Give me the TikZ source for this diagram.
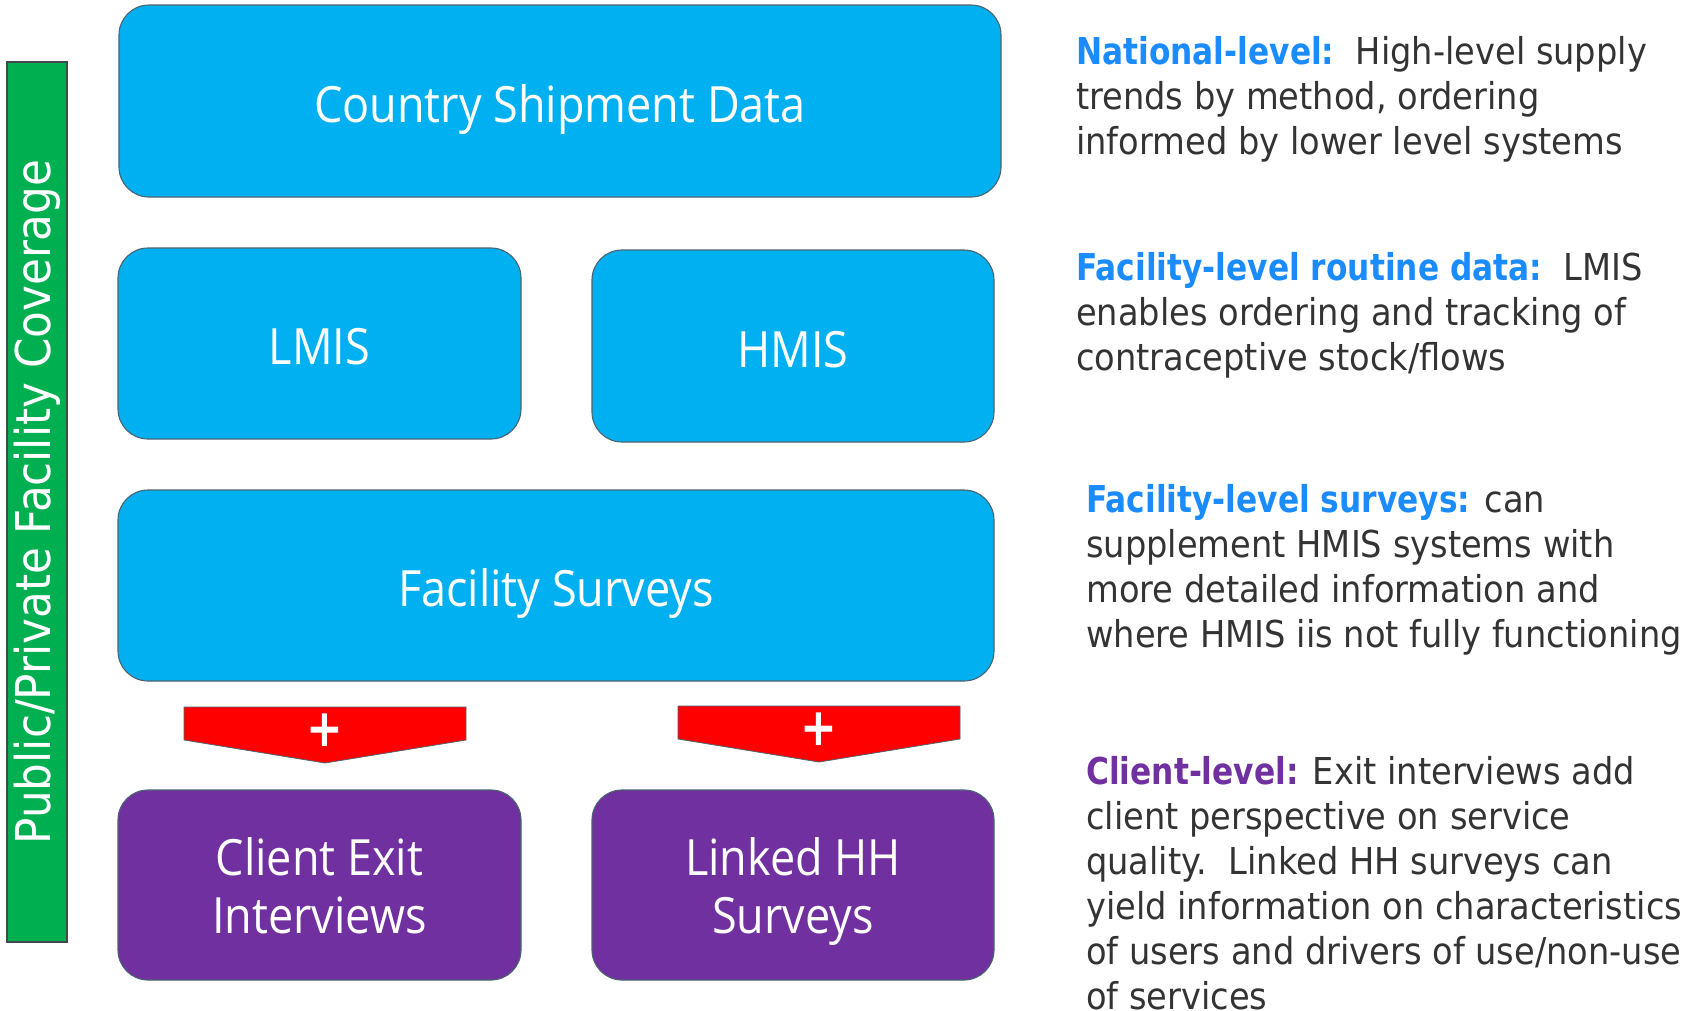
\documentclass[tikz,border=0pt]{standalone}
\usepackage{fontspec}
\setmainfont{DejaVu Sans}[FakeStretch=0.91]
\newfontfamily\labfont{DejaVu Sans}[FakeStretch=0.845]
\newfontfamily\barfont{DejaVu Sans}[FakeStretch=0.91]
\newfontfamily\boxfont{Open Sans}[FakeStretch=0.9]
\definecolor{boxblue}{HTML}{00B0F0}
\definecolor{boxpurple}{HTML}{7030A0}
\definecolor{bargreen}{HTML}{00B050}
\definecolor{arrowred}{HTML}{FF0000}
\definecolor{boxline}{HTML}{4A6470}
\definecolor{barline}{HTML}{3F4A4F}
\definecolor{labblue}{HTML}{1A8CFF}
\definecolor{labpurple}{HTML}{7030A0}
\definecolor{textdark}{HTML}{333333}
\newcommand{\labb}[2]{\textcolor{#1}{\labfont\bfseries #2}}
\begin{document}
\begin{tikzpicture}[x=1pt,y=-1pt,
  infobox/.style={draw=boxline, line width=1.1pt, rounded corners=30pt, inner sep=0pt,
    text=white, align=center, text depth=0pt, font=\boxfont\fontsize{50}{58}\selectfont},
  oneline/.style={text height=42pt},
  bluebox/.style={infobox, fill=boxblue},
  purplebox/.style={infobox, fill=boxpurple},
  plusarrow/.style={fill=arrowred, draw=boxline, line width=0.8pt},
  plussign/.style={text=white, font=\labfont\bfseries\fontsize{52}{52}\selectfont, inner sep=0pt},
  desc/.style={anchor=north west, align=left, inner sep=0pt, text=textdark,
    font=\fontsize{37}{45}\selectfont},
  coverbar/.style={draw=barline, line width=2.2pt, fill=bargreen, inner sep=0pt,
    text=white, font=\barfont\fontsize{48}{48}\selectfont}]
\useasboundingbox (0,0) rectangle (1698,1010);

% left bar
\node[coverbar, rotate=90, minimum width=880pt, minimum height=60pt] (bar) at (37,502)
  {Public/Private Facility Coverage};

% boxes
\node[bluebox, oneline, minimum width=882pt, minimum height=192pt] (country) at (560,101) {Country Shipment Data};
\node[bluebox, oneline, minimum width=403pt, minimum height=191pt] (lmis) at (319.5,343.5) {LMIS};
\node[bluebox, oneline, minimum width=402pt, minimum height=192pt] (hmis) at (793,346) {HMIS};
\node[bluebox, oneline, minimum width=876pt, minimum height=191pt] (fac) at (556,585.5) {Facility Surveys};
\node[purplebox, minimum width=403pt, minimum height=190pt] (client) at (319.5,885) {Client Exit\\Interviews};
\node[purplebox, minimum width=402pt, minimum height=190pt] (linked) at (793,885) {Linked HH\\Surveys};

% block arrows
\coordinate (a1) at (325,707);
\coordinate (a2) at (819,706);
\draw[plusarrow] (a1) ++(-141,0) -- ++(282,0) -- ++(0,33) -- ++(-141,23) -- ++(-141,-23) -- cycle;
\draw[plusarrow] (a2) ++(-141,0) -- ++(282,0) -- ++(0,33) -- ++(-141,23) -- ++(-141,-23) -- cycle;
\node[plussign] (p1) at ([yshift=-23pt]a1) {+};
\node[plussign] (p2) at ([yshift=-23pt]a2) {+};

% descriptions
\node[desc] (t1) at (1076,36) {\labb{labblue}{National-level:}\ \ High-level supply\\trends by method, ordering\\informed by lower level systems};
\node[desc] (t2) at (1076,252) {\labb{labblue}{Facility-level routine data:}\ \ LMIS\\enables ordering and tracking of\\contraceptive stock/flows};
\node[desc] (t3) at (1086,484) {\labb{labblue}{Facility-level surveys:} can\\supplement HMIS systems with\\more detailed information and\\where HMIS iis not fully functioning};
\node[desc] (t4) at (1086,756) {\labb{labpurple}{Client-level:} Exit interviews add\\client perspective on service\\quality.\ \ Linked HH surveys can\\yield information on characteristics\\of users and drivers of use/non-use\\of services};
\end{tikzpicture}
\end{document}
